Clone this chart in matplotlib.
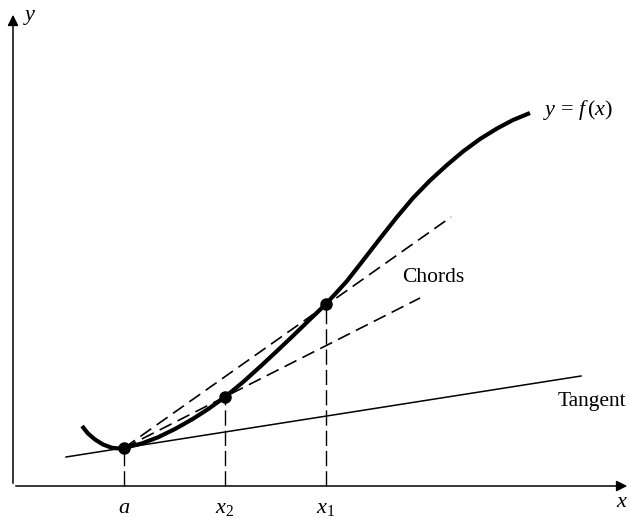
import matplotlib.pyplot as plt

plt.rcParams['font.family'] = ['Liberation Serif', 'DejaVu Serif']
plt.rcParams['mathtext.fontset'] = 'custom'
plt.rcParams['mathtext.rm'] = 'Liberation Serif'
plt.rcParams['mathtext.it'] = 'Liberation Serif:italic'

# curve y = f(x) (origin where the axes cross)
curve_x = [69, 75, 82, 90, 99, 105, 111, 120, 129, 145, 162, 179, 195, 212,
           230, 247, 264, 280, 296, 313, 334, 350, 367, 384, 400, 417, 434,
           450, 467, 484, 500, 517]
curve_y = [60, 52.5, 46.5, 41.5, 38.2, 37.6, 38, 40.3, 42.6, 48.7, 57, 66.6,
           76.8, 89, 103.9, 119.2, 135, 150.2, 165.7, 182, 205, 225.5, 247.5,
           269, 288, 305.5, 321, 334.5, 347, 357.5, 366, 373]

# marked points a, x2, x1
pt_x = [111, 212, 313]
pt_y = [38, 89, 182]
pt_labels = ['$a$', '$x_2$', '$x_1$']

# chords from a (through x1 and through x2)
chord_end_x = [438, 407]
chord_end_y = [269, 188]

# tangent at a
tan_x = [53, 568]
tan_y = [29, 110]

fig = plt.figure(figsize=(6.31, 5.18), dpi=100)
ax = fig.add_axes([0, 0, 1, 1])
ax.set_xlim(-13, 618)
ax.set_ylim(-32, 486)
ax.axis('off')

# axes with arrow heads
ax.annotate('', xy=(617, 0), xytext=(0, 0),
            arrowprops=dict(arrowstyle='-|>', color='black', lw=1.1, mutation_scale=16))
ax.annotate('', xy=(0, 474), xytext=(0, 0),
            arrowprops=dict(arrowstyle='-|>', color='black', lw=1.1, mutation_scale=16))

ax.plot(curve_x, curve_y, color='black', lw=3, solid_joinstyle='round',
        solid_capstyle='butt', zorder=3)
ax.plot(tan_x, tan_y, color='black', lw=1.1, zorder=2)

for ex, ey in zip(chord_end_x, chord_end_y):
    ax.plot([pt_x[0], ex], [pt_y[0], ey], color='black', lw=1.2,
            dashes=(8, 4), zorder=2)

for px, py, lab in zip(pt_x, pt_y, pt_labels):
    ax.plot([px, px], [0, py], color='black', lw=1.0, dashes=(11, 3.6), zorder=1)
    ax.text(px, -27, lab, fontsize=16, ha='center', va='baseline')

ax.plot(pt_x, pt_y, 'o', color='black', markersize=8, zorder=4)

ax.text(530, 371, '$y$ = $f\\,(x)$', fontsize=16, ha='left', va='baseline')
ax.text(389, 204, 'Chords', fontsize=15.5, ha='left', va='baseline')
ax.text(545, 80, 'Tangent', fontsize=15.5, ha='left', va='baseline')
ax.text(609, -21, '$x$', fontsize=16, ha='center', va='baseline')
ax.text(10, 466, '$y$', fontsize=16, ha='left', va='baseline')

fig.savefig('out.png', dpi=100)
